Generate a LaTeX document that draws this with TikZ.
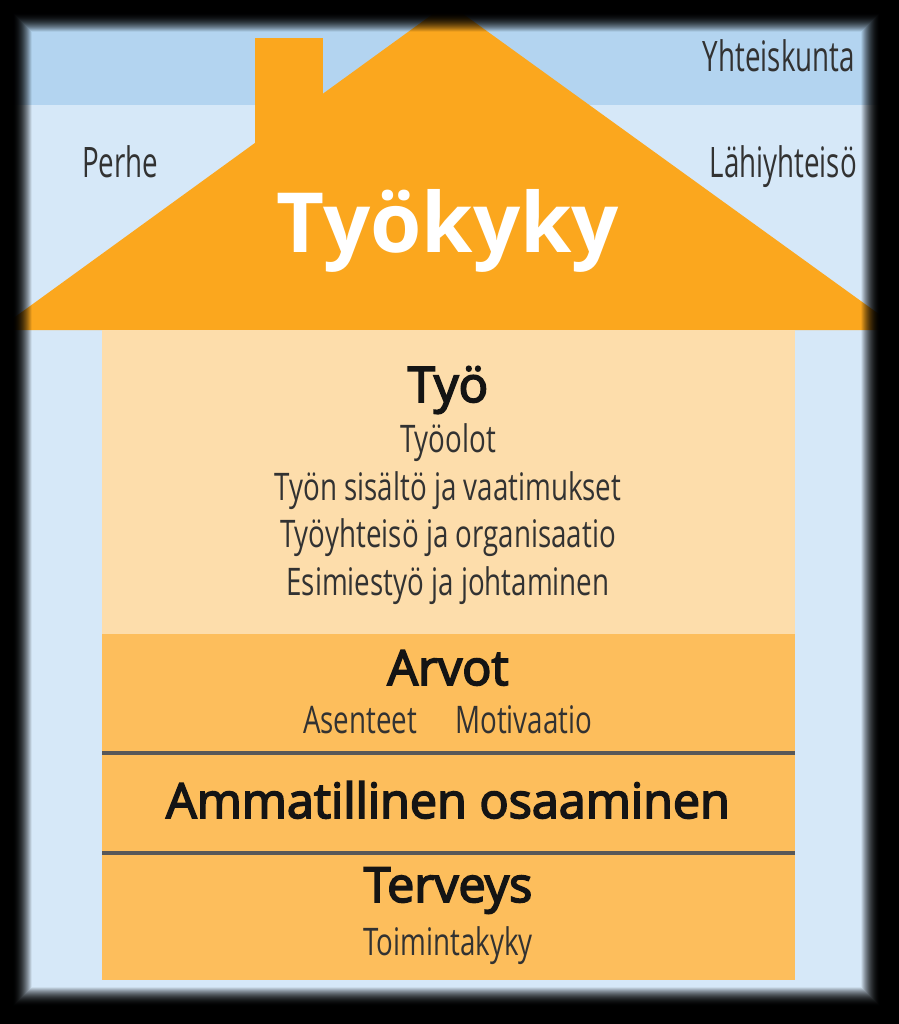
\documentclass[tikz,border=0pt]{standalone}
\usepackage{fontspec}
\setmainfont{Open Sans}
\newfontfamily\semib[FakeBold=3.5]{Open Sans}
\newfontfamily\cond[FakeStretch=0.73]{Open Sans}
\newfontfamily\condside[FakeStretch=0.66]{Open Sans}
\definecolor{bandblue}{RGB}{179,212,240}
\definecolor{paleblue}{RGB}{214,232,248}
\definecolor{rooforange}{RGB}{251,167,30}
\definecolor{secorange}{RGB}{253,190,92}
\definecolor{peach}{RGB}{253,221,171}
\definecolor{sepgray}{RGB}{88,88,88}
\definecolor{subtext}{RGB}{50,50,50}
\tikzset{
  subtxt/.style={font=\cond\fontsize{38}{44}\selectfont, text=subtext, inner sep=0pt, anchor=base},
  sidetxt/.style={font=\condside\fontsize{42}{48}\selectfont, text=subtext, inner sep=0pt},
  titletxt/.style={font=\semib\fontsize{48.5}{55}\selectfont, text=black!92, inner sep=0pt, anchor=base},
  seprule/.style={line width=4pt, draw=sepgray}
}
\begin{document}
\begin{tikzpicture}[x=1pt,y=-1pt]
\useasboundingbox (0,0) rectangle (898,1024);
\fill[black] (0,0) rectangle (898,1024);
% panel
\fill[paleblue] (10,10) rectangle (888,1012);
\fill[bandblue] (10,10) rectangle (888,105);
% chimney and roof
\fill[rooforange] (255,38) rectangle (323,160);
\fill[rooforange] (-3,330) -- (448,3) -- (901,330) -- cycle;
% body
\fill[peach] (102,330) rectangle (795,634);
\fill[secorange] (102,634) rectangle (795,980);
\draw[seprule] (102,753) -- (795,753);
\draw[seprule] (102,853) -- (795,853);
% texts
\node[sidetxt, anchor=base east] (yht) at (855,72) {Yhteiskunta};
\node[sidetxt, anchor=base west] (perhe) at (82,178) {Perhe};
\node[sidetxt, anchor=base east] (lahi) at (857,178) {Lähiyhteisö};
\node[font=\bfseries\fontsize{83}{90}\selectfont, text=white, inner sep=0pt, anchor=base] (tyokyky) at (448,252) {Työkyky};
\node[titletxt, font=\semib\fontsize{49}{55}\selectfont] (tyo) at (448,402) {Työ};
\node[subtxt] (s1) at (448,452) {Työolot};
\node[subtxt] (s2) at (448,500) {Työn sisältö ja vaatimukset};
\node[subtxt] (s3) at (448,547) {Työyhteisö ja organisaatio};
\node[subtxt] (s4) at (448,595) {Esimiestyö ja johtaminen};
\node[titletxt] (arvot) at (448,685) {Arvot};
\node[subtxt, anchor=base west] (asenteet) at (303,733) {Asenteet};
\node[subtxt, anchor=base west] (motiv) at (455,733) {Motivaatio};
\node[titletxt] (ammat) at (448,818) {Ammatillinen osaaminen};
\node[titletxt] (terv) at (448,902) {Terveys};
\node[subtxt] (toim) at (448,955) {Toimintakyky};
% soft dark frame
\foreach \k in {-10,...,10} {
  \pgfmathsetmacro\op{(10-\k)/20}
  \draw[black, opacity=\op, line width=1.15pt] ({22+\k},{22+\k}) rectangle ({871-\k},{997-\k});
}
\fill[black, even odd rule] (-5,-5) rectangle (903,1029) (12,12) rectangle (881,1007);
\end{tikzpicture}
\end{document}
